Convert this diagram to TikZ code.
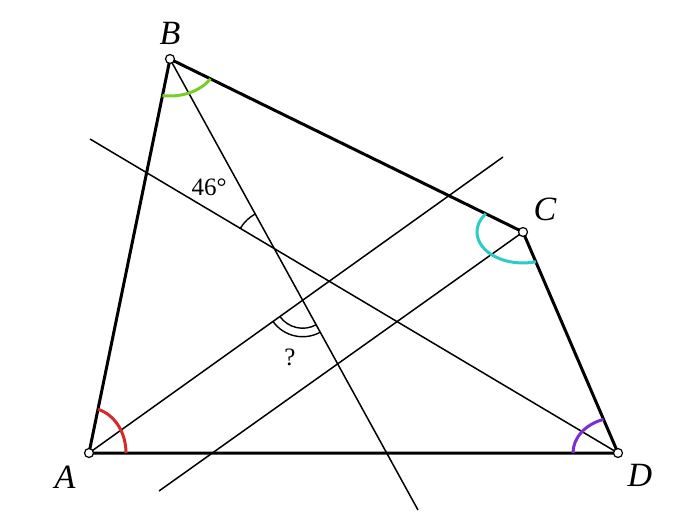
\documentclass[tikz,border=0pt]{standalone}
\usepackage{fontspec}
\setmainfont{Liberation Serif}
\usetikzlibrary{calc}
\definecolor{redarc}{RGB}{212,42,42}
\definecolor{greenarc}{RGB}{122,204,41}
\definecolor{cyanarc}{RGB}{43,203,203}
\definecolor{purplearc}{RGB}{123,47,208}
\tikzset{
  side/.style={line width=3pt, line cap=round, line join=round},
  thinline/.style={line width=1.5pt},
  angmark/.style={line width=3pt},
  smallmark/.style={line width=1.4pt},
  vertex/.style={circle, draw, fill=white, line width=1.2pt, inner sep=0pt, minimum size=9pt},
  vlabel/.style={font=\fontsize{34}{40}\selectfont\itshape, inner sep=0pt},
  anglabel/.style={font=\fontsize{25}{30}\selectfont, inner sep=0pt}
}
\begin{document}
\begin{tikzpicture}[x=1pt,y=1pt]
\useasboundingbox (0,0) rectangle (689,523);
\coordinate (A) at (89,70);
\coordinate (B) at (170,464);
\coordinate (C) at (523,291);
\coordinate (D) at (618,70);
\coordinate (Bend) at (418,13);
\coordinate (Dend) at (90,384);
\coordinate (Aend) at (503,366);
\coordinate (Cend) at (159,32);
% thin lines
\draw[thinline] (B) -- (Bend);
\draw[thinline] (D) -- (Dend);
\draw[thinline] (A) -- (Aend);
\draw[thinline] (C) -- (Cend);
% intersections
\coordinate (P1) at (intersection of B--Bend and D--Dend);
\coordinate (P2) at (intersection of B--Bend and A--Aend);
% sides
\draw[side] (A) -- (B) -- (C) -- (D) -- cycle;
% angle marks at vertices
\draw[angmark, redarc] ($(A)+(0:37 and 45)$) arc[start angle=0, end angle=76, x radius=37, y radius=45];
\draw[angmark, greenarc] ($(B)+(261:48 and 37)$) arc[start angle=261, end angle=327.5, x radius=48, y radius=37];
\draw[angmark, cyanarc] ($(C)+(144:46 and 31)$) arc[start angle=144, end angle=286.2, x radius=46, y radius=31];
\draw[angmark, purplearc] ($(D)+(108.7:45 and 35.5)$) arc[start angle=108.7, end angle=180, x radius=45, y radius=35.5];
% angle marks at intersections
\draw[smallmark] ($(P1)+(118.8:39.5)$) arc[start angle=118.8, end angle=149.3, radius=39.5];
\draw[smallmark] ($(P2)+(215.6:28)$) arc[start angle=215.6, end angle=298.8, radius=28];
\draw[smallmark] ($(P2)+(215.6:36.5)$) arc[start angle=215.6, end angle=298.8, radius=36.5];
% vertices
\node[vertex] (nA) at (A) {};
\node[vertex] (nB) at (B) {};
\node[vertex] (nC) at (C) {};
\node[vertex] (nD) at (D) {};
% labels
\node[vlabel] (lA) at (65,46) {A};
\node[vlabel] (lB) at (170,490) {B};
\node[vlabel] (lC) at (545,314) {C};
\node[vlabel] (lD) at (640,48) {D};
\node[anglabel] (l46) at (209,336) {46°};
\node[anglabel] (lq) at (290,166) {?};
\end{tikzpicture}
\end{document}
